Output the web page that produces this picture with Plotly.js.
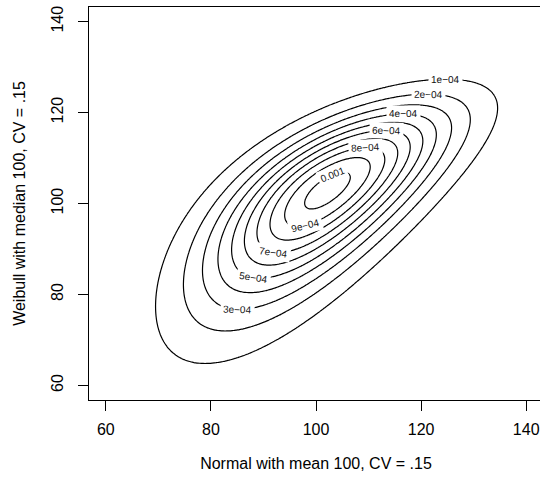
<!DOCTYPE html>
<html>
<head>
<meta charset="utf-8">
<script src="https://cdn.plot.ly/plotly-3.0.1.min.js"></script>
<style>
html,body{margin:0;padding:0;overflow:hidden;background:#fff;}
#chart{width:543px;height:482px;}
</style>
</head>
<body>
<div id="chart"></div>
<script>
// ---- Distribution parameters (from the axis titles) ----
const normalMean = 100;
const normalCV = 0.15;
const weibullMedian = 100;
const weibullCV = 0.15;
const copulaRho = 0.7;

// ---- Contour levels and their labels ----
const levels = [1e-4, 2e-4, 3e-4, 4e-4, 5e-4, 6e-4, 7e-4, 8e-4, 9e-4, 1e-3];
const levelText = ['1e\u221204','2e\u221204','3e\u221204','4e\u221204','5e\u221204',
                   '6e\u221204','7e\u221204','8e\u221204','9e\u221204','0.001'];
const labelX = [124.7, 121.5, 85.0, 116.6, 88.1, 113.4, 91.9, 109.4, 98.0, 103.2];
const labelSide = ['upper','upper','lower','upper','lower','upper','lower','upper','lower','upper'];

// ---- Axes ----
const xTicks = [60, 80, 100, 120, 140];
const yTicks = [60, 80, 100, 120, 140];
const xRange = [56.8, 143.2];
const yRange = [56.8, 143.2];

// ---- helpers ----
function lnGamma(z){
  const g=7, c=[0.99999999999980993,676.5203681218851,-1259.1392167224028,771.32342877765313,
    -176.61502916214059,12.507343278686905,-0.13857109526572012,9.9843695780195716e-6,1.5056327351493116e-7];
  if(z<0.5) return Math.log(Math.PI/Math.sin(Math.PI*z))-lnGamma(1-z);
  z-=1; let x=c[0]; for(let i=1;i<g+2;i++) x+=c[i]/(z+i);
  const t=z+g+0.5; return 0.5*Math.log(2*Math.PI)+(z+0.5)*Math.log(t)-t+Math.log(x);
}
function weibullCVof(k){
  const g1=Math.exp(lnGamma(1+1/k)), g2=Math.exp(lnGamma(1+2/k));
  return Math.sqrt(g2/(g1*g1)-1);
}
let lo=1, hi=50;
for(let i=0;i<100;i++){ const m=(lo+hi)/2; if(weibullCVof(m)>weibullCV) lo=m; else hi=m; }
const wk=(lo+hi)/2;
const wl=weibullMedian/Math.pow(Math.LN2,1/wk);
const sdX=normalMean*normalCV;

function normInv(p){
  const a=[-3.969683028665376e+01,2.209460984245205e+02,-2.759285104469687e+02,1.383577518672690e+02,-3.066479806614716e+01,2.506628277459239e+00];
  const b=[-5.447609879822406e+01,1.615858368580409e+02,-1.556989798598866e+02,6.680131188771972e+01,-1.328068155288572e+01];
  const c=[-7.784894002430293e-03,-3.223964580411365e-01,-2.400758277161838e+00,-2.549732539343734e+00,4.374664141464968e+00,2.938163982698783e+00];
  const d=[7.784695709041462e-03,3.224671290700398e-01,2.445134137142996e+00,3.754408661907416e+00];
  const pl=0.02425;
  if(p<pl){ const q=Math.sqrt(-2*Math.log(p));
    return (((((c[0]*q+c[1])*q+c[2])*q+c[3])*q+c[4])*q+c[5])/((((d[0]*q+d[1])*q+d[2])*q+d[3])*q+1); }
  if(p>1-pl){ const q=Math.sqrt(-2*Math.log(1-p));
    return -(((((c[0]*q+c[1])*q+c[2])*q+c[3])*q+c[4])*q+c[5])/((((d[0]*q+d[1])*q+d[2])*q+d[3])*q+1); }
  const q=p-0.5, r=q*q;
  return (((((a[0]*r+a[1])*r+a[2])*r+a[3])*r+a[4])*r+a[5])*q/(((((b[0]*r+b[1])*r+b[2])*r+b[3])*r+b[4])*r+1);
}
function density(x,y){
  if(y<=0) return 0;
  const a=(x-normalMean)/sdX;
  const fx=Math.exp(-0.5*a*a)/(Math.sqrt(2*Math.PI)*sdX);
  const t=Math.pow(y/wl,wk);
  const fy=(wk/wl)*Math.pow(y/wl,wk-1)*Math.exp(-t);
  const surv=Math.exp(-t);
  const F=1-surv;
  const bq = F<0.5 ? normInv(F) : -normInv(surv);
  const r2=copulaRho*copulaRho;
  const cop=Math.exp(-(r2*(a*a+bq*bq)-2*copulaRho*a*bq)/(2*(1-r2)))/Math.sqrt(1-r2);
  return cop*fx*fy;
}

// ---- grid ----
const N=261;
const gx=[], gy=[];
for(let i=0;i<N;i++){ gx.push(55+90*i/(N-1)); gy.push(55+90*i/(N-1)); }
const Z=gy.map(y=>gx.map(x=>density(x,y)));

const traces=levels.map(L=>({
  type:'contour', x:gx, y:gy, z:Z,
  autocontour:false,
  contours:{start:L,end:L,size:1,coloring:'none',showlabels:false},
  line:{color:'#000',width:1.2,smoothing:1},
  showscale:false, hoverinfo:'skip'
}));

// ---- labels placed on the computed contours ----
const W=543, H=482, mL=89, mR=0, mT=7, mB=82;
const sx=(W-mL-mR)/(xRange[1]-xRange[0]);
const sy=(H-mT-mB)/(yRange[1]-yRange[0]);
function solveY(L,x,side){
  let y0, step;
  if(side==='upper'){ y0=143; step=-0.05; } else { y0=57; step=0.05; }
  let y=y0, prev=y0;
  while(density(x,y)<L && y>50 && y<150){ prev=y; y+=step; }
  let a=prev, b=y;
  for(let i=0;i<50;i++){ const m=(a+b)/2; if(density(x,m)<L) a=m; else b=m; }
  return (a+b)/2;
}
const annotations=levels.map((L,i)=>{
  const x=labelX[i];
  const y=solveY(L,x,labelSide[i]);
  const h=1e-3;
  const dzdx=(density(x+h,y)-density(x-h,y))/(2*h);
  const dzdy=(density(x,y+h)-density(x,y-h))/(2*h);
  let ang=Math.atan2(dzdx*sy, dzdy*sx)*180/Math.PI;
  if(ang>90) ang-=180; if(ang<-90) ang+=180;
  return {x:x,y:y,xref:'x',yref:'y',text:levelText[i],showarrow:false,
    textangle:ang,font:{family:'Liberation Sans, Arial, sans-serif',size:10,color:'#111'},
    bgcolor:'#fff',borderpad:2};
});

const fontFam='Liberation Sans, Arial, sans-serif';
const axisBase={
  showgrid:false, zeroline:false, showline:true, linecolor:'#000', linewidth:1, mirror:true,
  ticks:'outside', ticklen:10, tickcolor:'#000', tickwidth:1, tickmode:'array',
  tickfont:{family:fontFam,size:16,color:'#000'}
};
const layout={
  width:W, height:H, margin:{l:mL,r:mR,t:mT,b:mB},
  paper_bgcolor:'#fff', plot_bgcolor:'#fff', showlegend:false,
  xaxis:Object.assign({},axisBase,{range:xRange,tickvals:xTicks,ticktext:xTicks.map(String),
    ticklabelstandoff:5,
    title:{text:'Normal with mean 100, CV = .15',font:{family:fontFam,size:16,color:'#000'},standoff:20}}),
  yaxis:Object.assign({},axisBase,{range:yRange,tickvals:yTicks,ticktext:yTicks.map(String),tickangle:-90,
    ticklabelstandoff:9,
    title:{text:'Weibull with median 100, CV = .15',font:{family:fontFam,size:16,color:'#000'},standoff:18}}),
  annotations:annotations
};
Plotly.newPlot('chart',traces,layout,{staticPlot:true,displayModeBar:false});
</script>
</body>
</html>
